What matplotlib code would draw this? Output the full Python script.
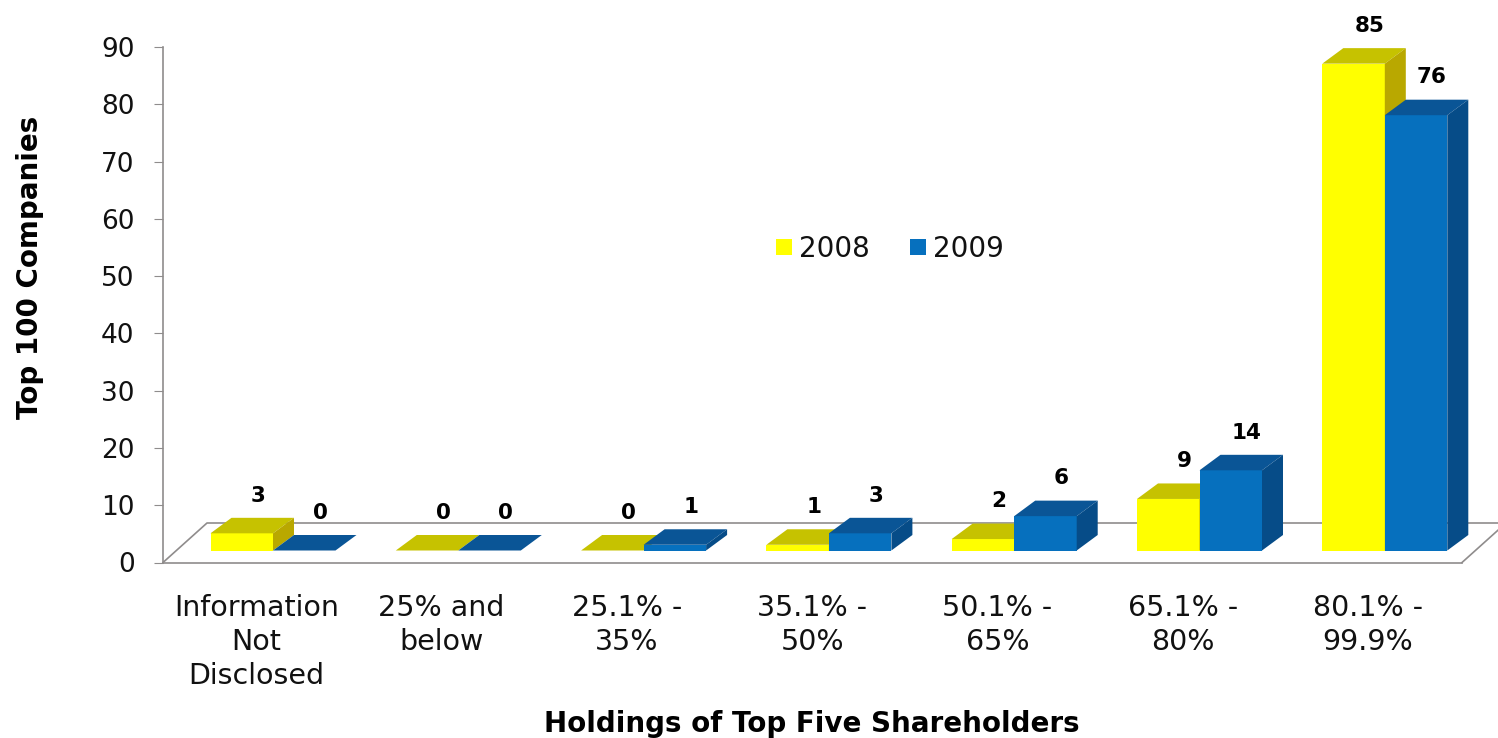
import numpy as np
import matplotlib
matplotlib.use("Agg")
import matplotlib.pyplot as plt
from matplotlib.patches import Polygon

categories = ["Information\nNot\nDisclosed", "25% and\nbelow", "25.1% -\n35%", "35.1% -\n50%",
              "50.1% -\n65%", "65.1% -\n80%", "80.1% -\n99.9%"]
series_2008 = [3, 0, 0, 1, 2, 9, 85]
series_2009 = [0, 0, 1, 3, 6, 14, 76]
y_ticks = list(range(0, 100, 10))

W, H = 1498, 738
fig = plt.figure(figsize=(W / 100, H / 100), dpi=100, facecolor="white")
L, R, T, B = 163, 1462, 47, 562.5
ax = fig.add_axes([L / W, 1 - B / H, (R - L) / W, (B - T) / H])
px_x = 185.3
ax.set_xlim((L - 273) / px_x, (R - 273) / px_x)
ax.set_ylim(0, 90)
px_y = (B - T) / 90

grey = "#8f8c8c"
bw = 62.5 / px_x
ddx, ddy = 21 / px_x, 15.5 / px_y
fdx, fdy = 44 / px_x, 39.5 / px_y
base = 12 / px_y
x = np.arange(len(categories))

# floor
x0, x1 = ax.get_xlim()
ax.plot([x0, x0 + fdx, x1 + fdx], [0, fdy, fdy], color=grey, lw=1.2, clip_on=False, zorder=1)
ax.plot([x1, x1 + fdx], [0, fdy], color=grey, lw=1.2, clip_on=False, zorder=1)

def bar3d(xs, vals, face, top, side, label, off):
    bars = ax.bar(xs, vals, width=bw, bottom=base, color=face, label=label, zorder=3 + off, linewidth=0)
    for xi, v in zip(xs, vals):
        l, r, t = xi - bw / 2, xi + bw / 2, base + v
        ax.add_patch(Polygon([(l, t), (r, t), (r + ddx, t + ddy), (l + ddx, t + ddy)],
                             closed=True, fc=top, ec="none", zorder=3 + off, clip_on=False))
        if v > 0:
            ax.add_patch(Polygon([(r, base), (r + ddx, base + ddy), (r + ddx, t + ddy), (r, t)],
                                 closed=True, fc=side, ec="none", zorder=3 + off, clip_on=False))
        ax.annotate(str(v), (xi, t + ddy), xytext=(11.5, 16), textcoords="offset points",
                    ha="center", va="center", fontsize=15.5, fontweight="bold", color="black",
                    annotation_clip=False, zorder=10)
    return bars

bar3d(x - bw / 2, series_2008, "#FFFF00", "#C6C200", "#B9A800", "2008", 0)
bar3d(x + bw / 2, series_2009, "#0670BE", "#0A5596", "#064C88", "2009", 1)

for s in ["top", "right"]:
    ax.spines[s].set_visible(False)
for s in ["left", "bottom"]:
    ax.spines[s].set_color(grey)
    ax.spines[s].set_linewidth(1.2)
ax.set_yticks(y_ticks)
ax.tick_params(axis="y", length=6.5, color=grey, labelsize=19, pad=14, labelcolor="#111111")
ax.set_xticks(x - 0.09)
ax.set_xticklabels(categories, fontsize=20.5, linespacing=1.27, color="#111111")
ax.tick_params(axis="x", length=0, pad=23)
fig.text(812 / W, 1 - 724 / H, "Holdings of Top Five Shareholders", ha="center", va="center",
         fontsize=20, fontweight="bold", color="black")
fig.text(30 / W, 1 - 267 / H, "Top 100 Companies", ha="center", va="center", rotation=90,
         fontsize=20, fontweight="bold", color="black")
ax.legend(ncol=2, frameon=False, loc="center", bbox_to_anchor=((890 - L) / (R - L), (B - 249) / (B - T)),
          fontsize=20, handlelength=0.58, handleheight=0.5, handletextpad=0.25, columnspacing=1.44,
          labelcolor="#111111")
fig.savefig("out.png", dpi=100, facecolor="white")
